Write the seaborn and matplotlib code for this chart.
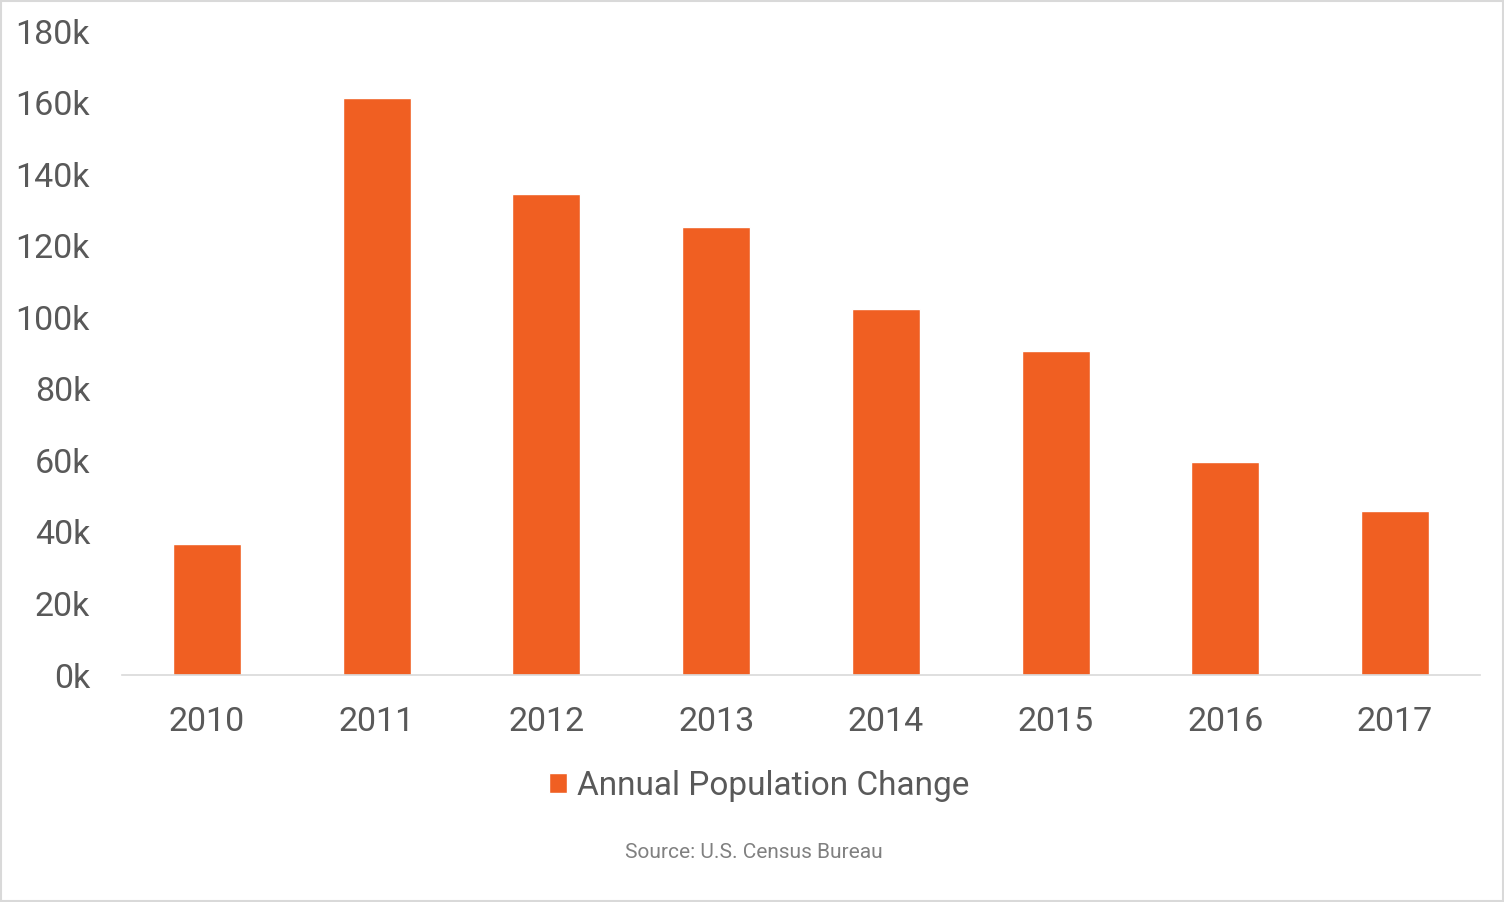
import pandas as pd
import seaborn as sns
import matplotlib.pyplot as plt
from matplotlib.patches import Rectangle

# Values
years = ['2010', '2011', '2012', '2013', '2014', '2015', '2016', '2017']
pop_change = [36500, 161300, 134400, 125100, 102200, 90500, 59500, 45800]
yticks = [0, 20000, 40000, 60000, 80000, 100000, 120000, 140000, 160000, 180000]
ytick_labels = ['0k', '20k', '40k', '60k', '80k', '100k', '120k', '140k', '160k', '180k']

df = pd.DataFrame({'Year': years, 'Change': pop_change,
                   'Series': 'Annual Population Change'})

sns.set_style('white')
plt.rcParams['font.family'] = ['Roboto', 'DejaVu Sans']

bar_color = '#F05F22'
text_color = '#595959'

fig = plt.figure(figsize=(15.04, 9.02), dpi=100)
ax = fig.add_axes([122 / 1504, 1 - 675 / 902, (1480 - 122) / 1504, (675 - 31) / 902])

sns.barplot(data=df, x='Year', y='Change', hue='Series', palette=[bar_color],
            width=0.4, ax=ax, legend=True, saturation=1)

ax.set_ylim(0, 180000)
ax.set_xlim(-0.5, len(years) - 0.5)
ax.set_yticks(yticks)
ax.set_yticklabels(ytick_labels)
ax.set_xlabel('')
ax.set_ylabel('')
ax.tick_params(axis='y', length=0, pad=23, labelsize=24.5, labelcolor=text_color)
ax.tick_params(axis='x', length=0, pad=22, labelsize=24.5, labelcolor=text_color)

for side in ['top', 'right', 'left']:
    ax.spines[side].set_visible(False)
ax.spines['bottom'].set_color('#D9D9D9')
ax.spines['bottom'].set_linewidth(1.2)

leg = ax.legend(loc='center', bbox_to_anchor=(759 / 1504, 1 - 786 / 902),
                bbox_transform=fig.transFigure, frameon=False, fontsize=24,
                handlelength=0.55, handleheight=0.55, handletextpad=0.3)
for t in leg.get_texts():
    t.set_color(text_color)

fig.text(754 / 1504, 1 - 852 / 902, 'Source: U.S. Census Bureau', ha='center',
         va='center', fontsize=15, color='#808080')

# light grey frame around the whole picture
fig.patches.append(Rectangle((0.0005, 0.0008), 0.999, 0.998, transform=fig.transFigure,
                             fill=False, edgecolor='#D9D9D9', linewidth=1.5))

plt.savefig('out.png', dpi=100)
